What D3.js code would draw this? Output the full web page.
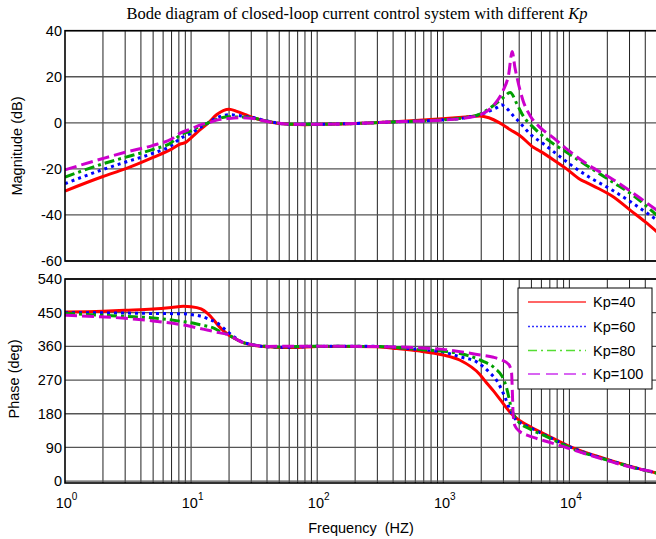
<!DOCTYPE html>
<html>
<head>
<meta charset="utf-8">
<script src="https://cdn.jsdelivr.net/npm/d3@7"></script>
<style>
html,body{margin:0;padding:0;background:#fff;}
svg{display:block;}
text{font-family:"Liberation Sans",Arial,sans-serif;fill:#000;}
</style>
</head>
<body>
<svg id="chart" width="656" height="539"></svg>
<script>
// ---------- data ----------
const seriesNames = ["Kp=40", "Kp=60", "Kp=80", "Kp=100"];
const magTicks = [-60, -40, -20, 0, 20, 40];
const phaseTicks = [0, 90, 180, 270, 360, 450, 540];
const freqTickExps = [0, 1, 2, 3, 4];

// magnitude [frequency Hz, dB]
const mag40 = [[1,-29.6],[2,-23.3],[3,-20],[5,-15],[7,-11.4],[8.2,-9.2],[9,-8.6],[10,-6.5],[12,-2.6],[13.7,0],[16,3.6],[18,5.3],[20,5.9],[23,5],[27,3.5],[32,2],[40,0.7],[50,-0.3],[60,-0.6],[80,-0.8],[100,-0.7],[200,-0.3],[400,0.5],[600,1.0],[1000,1.8],[1500,2.5],[1950,3.0],[2300,2.2],[2800,0],[3400,-3],[4060,-5.6],[5170,-10.6],[5850,-12.3],[7450,-16],[9500,-20],[12100,-24.5],[13700,-26],[17000,-28.5],[22100,-32],[30500,-38],[40000,-43],[50000,-47.5]];
const mag60 = [[1,-26.4],[1.9,-20.7],[3,-17.1],[5,-13.2],[7,-9.8],[8.2,-6.8],[10,-4.5],[12,-1.8],[13.7,0],[16,2.2],[20,3.5],[25,3],[30,2.4],[40,0.8],[50,-0.2],[60,-0.6],[100,-0.6],[200,-0.3],[400,0.4],[600,0.7],[1000,1.3],[1500,2.2],[1950,3.6],[2300,5],[2700,6.8],[2900,7.8],[3150,6.5],[3600,3],[4060,0],[4900,-4.9],[6240,-9.2],[7900,-13.5],[10000,-17.8],[14400,-23.6],[22000,-29.3],[32000,-35],[50000,-42.4]];
const mag80 = [[1,-23.6],[2,-17.8],[3,-15],[5,-11.5],[7,-8.5],[8.2,-5.3],[10,-3.5],[12,-1.2],[13.7,0],[16,1.6],[20,2.6],[25,2.5],[30,2.2],[40,0.7],[50,-0.2],[60,-0.6],[100,-0.6],[200,-0.3],[400,0.4],[600,0.7],[1000,1.3],[1500,2.3],[1950,3.8],[2500,7.5],[3000,11],[3390,13.2],[3850,8],[4300,3],[5180,-2],[6600,-7],[9500,-12.8],[13700,-18.5],[22000,-25.7],[32000,-31.5],[50000,-40.4]];
const mag100 = [[1,-20.4],[2,-15.5],[3,-12.8],[5,-9.8],[7,-7],[8.2,-4.5],[10,-2.6],[12,-0.8],[13.7,0],[16,1.2],[20,1.9],[25,2.2],[30,2],[40,0.6],[50,-0.2],[60,-0.6],[100,-0.6],[200,-0.3],[400,0.4],[600,0.7],[1000,1.2],[1500,2.1],[1950,3.4],[2500,7.5],[2970,13.8],[3300,21],[3520,31],[3700,24],[3850,19.5],[4300,9.5],[4900,3],[5850,-2],[7400,-6.3],[9500,-11.3],[13700,-17.8],[22000,-24.5],[32000,-30.5],[50000,-38.2]];

// phase [frequency Hz, deg]
const ph40 = [[1,452],[2,454],[3,456.5],[5,460],[7,464],[8.7,467],[10,466],[12,460],[13.5,448],[15,432],[17,410],[20,390],[22,382],[25,372],[30,364],[40,359],[50,357],[65,357],[100,360],[200,360],[300,359],[430,354],[630,348],[1000,337],[1360,323],[1950,285],[2200,263],[2500,241],[2810,219],[3410,183],[3850,167],[4900,145],[6600,123],[10000,93],[20000,58],[30000,40],[50000,21]];
const ph60 = [[1,450],[3,449],[5,448],[8.7,447],[10,445],[11.8,441],[14,432],[16,423],[19.4,400],[22,385],[25,373],[30,365],[40,359],[50,358],[65,358],[100,360.5],[200,360.5],[300,360],[630,352],[1000,345],[1360,332],[1850,318],[2330,290],[2660,268],[3000,234],[3390,190],[3600,172],[4900,143],[6600,121],[10000,92],[20000,57],[30000,40],[50000,21]];
const ph80 = [[1,448],[3,440],[5,436],[8.7,426],[10,423],[12,417],[14.8,410],[17,400],[19.4,392],[25,372],[30,365],[40,360],[50,358.5],[100,360.5],[300,359.5],[630,352],[1000,347],[1360,341],[1970,323],[2600,300],[2930,280],[3160,252],[3500,190],[3850,163],[4900,139],[6600,119],[10000,90],[20000,56],[30000,39],[50000,21]];
const ph100 = [[1,443],[3,435],[5,428],[8.7,417],[10,413],[13.7,403],[17,396],[19.4,392],[25,372],[30,365],[40,360],[100,360.5],[300,359.5],[1000,352],[1360,346],[1970,337],[2500,331],[2930,323],[3250,314],[3390,305],[3480,290],[3530,240],[3580,180],[3700,148],[4060,132],[4610,123],[5500,114],[6300,108],[9000,92],[10000,87],[20000,55],[30000,38],[50000,23]];

const magData = [mag40, mag60, mag80, mag100];
const phData = [ph40, ph60, ph80, ph100];

// ---------- styles ----------
const colors = ["#ff0000", "#0000ff", "#00a000", "#cc00cc"];
const legendColors = ["#ff3333", "#3333ff", "#55dd33", "#cc33ee"];
const dashes = [null, "3,4", "10,4,3,4", "12,5"];
const legendDashes = [null, "2,2", "9,4,2,4", "12,6"];

const svg = d3.select("#chart");

const x = d3.scaleLog().domain([1, 5e4]).range([65, 657.5]);
const yMag = d3.scaleLinear().domain([-60, 40]).range([261, 30.7]);
const yPh = d3.scaleLinear().domain([-5, 540]).range([483, 279]);

// title
const title = svg.append("text")
  .attr("x", 357).attr("y", 19)
  .attr("text-anchor", "middle")
  .style("font-family", "'Liberation Serif','Times New Roman',serif")
  .style("font-size", "16.5px");
title.append("tspan").text("Bode diagram of closed-loop current control system with different ");
title.append("tspan").style("font-style", "italic").text("Kp");

// vertical gridline frequencies
const gridFreqs = [];
for (let d = 0; d <= 4; d++) {
  for (let k = 1; k <= 9; k++) {
    const f = k * Math.pow(10, d);
    if (f > 1 && f < 5e4) gridFreqs.push(f);
  }
}

function panel(y, ticks, data, clipId) {
  const [y0, y1] = y.range();
  const g = svg.append("g");
  g.append("defs").append("clipPath").attr("id", clipId)
    .append("rect").attr("x", x.range()[0]).attr("y", y1)
    .attr("width", x.range()[1] - x.range()[0]).attr("height", y0 - y1);
  // vertical grid
  g.selectAll(".vg").data(gridFreqs).enter().append("line")
    .attr("x1", d => x(d)).attr("x2", d => x(d))
    .attr("y1", y1).attr("y2", y0)
    .attr("stroke", "#222").attr("stroke-width", 1);
  // horizontal grid
  g.selectAll(".hg").data(ticks).enter().append("line")
    .attr("x1", x.range()[0]).attr("x2", x.range()[1])
    .attr("y1", d => y(d)).attr("y2", d => y(d))
    .attr("stroke", "#555").attr("stroke-width", 1.3);
  // curves
  const line = d3.line().x(d => x(d[0])).y(d => y(d[1])).curve(d3.curveMonotoneX);
  const cg = g.append("g").attr("clip-path", `url(#${clipId})`);
  data.forEach((s, i) => {
    cg.append("path").datum(s).attr("d", line)
      .attr("fill", "none").attr("stroke", colors[i])
      .attr("stroke-width", 3)
      .attr("stroke-dasharray", dashes[i])
      .attr("stroke-linejoin", "round");
  });
  // border
  g.append("rect").attr("x", x.range()[0]).attr("y", y1)
    .attr("width", x.range()[1] - x.range()[0]).attr("height", y0 - y1)
    .attr("fill", "none").attr("stroke", "#000").attr("stroke-width", 1.6);
  // tick labels
  g.selectAll(".yl").data(ticks).enter().append("text")
    .attr("x", 62).attr("y", d => y(d)).attr("dy", "0.35em")
    .attr("text-anchor", "end").style("font-size", "14.5px")
    .text(d => d);
  return g;
}

panel(yMag, magTicks, magData, "clipMag");
panel(yPh, phaseTicks, phData, "clipPh");

// x tick labels
freqTickExps.forEach(e => {
  const t = svg.append("text").attr("x", x(Math.pow(10, e)) + 1.5).attr("y", 508)
    .attr("text-anchor", "middle").style("font-size", "14.5px");
  t.append("tspan").text("10");
  t.append("tspan").attr("dy", -8).style("font-size", "10px").text(e);
});

// axis labels
svg.append("text").attr("x", 361).attr("y", 533).attr("text-anchor", "middle")
  .style("font-size", "14.5px").style("white-space", "pre").text("Frequency  (HZ)");
svg.append("text").attr("transform", "translate(22,146) rotate(-90)")
  .attr("text-anchor", "middle").style("font-size", "14.5px").text("Magnitude (dB)");
svg.append("text").attr("transform", "translate(19,379) rotate(-90)")
  .attr("text-anchor", "middle").style("font-size", "14.5px").text("Phase (deg)");

// legend
const lg = svg.append("g");
lg.append("rect").attr("x", 518).attr("y", 288).attr("width", 134).attr("height", 101)
  .attr("fill", "#fff").attr("stroke", "#000").attr("stroke-width", 1);
const legendY = [302, 326.5, 350.5, 374];
seriesNames.forEach((n, i) => {
  lg.append("line").attr("x1", 528).attr("x2", 586)
    .attr("y1", legendY[i]).attr("y2", legendY[i])
    .attr("stroke", legendColors[i]).attr("stroke-width", 1.6)
    .attr("stroke-dasharray", legendDashes[i]);
  lg.append("text").attr("x", 593).attr("y", legendY[i]).attr("dy", "0.35em")
    .style("font-size", "14.5px").text(n);
});
</script>
</body>
</html>
